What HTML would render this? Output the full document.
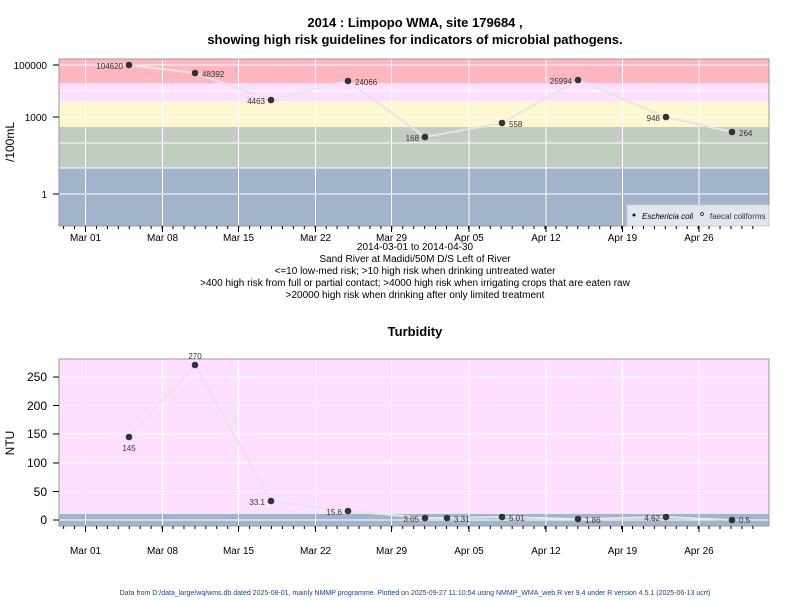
<!DOCTYPE html>
<html><head><style>body{margin:0;background:#fff}svg{display:block;font-family:"Liberation Sans",sans-serif}</style></head>
<body>
<svg width="800" height="600" viewBox="0 0 800 600">
<text x="415" y="27" font-size="13" font-weight="bold" text-anchor="middle">2014 : Limpopo WMA, site 179684 ,</text>
<text x="415" y="44" font-size="13" font-weight="bold" text-anchor="middle">showing high risk guidelines for indicators of microbial pathogens.</text>
<!-- top panel -->
<rect x="59" y="59" width="710" height="24" fill="#ffb6c1"/>
<rect x="59" y="83" width="710" height="18" fill="#ffdfff"/>
<rect x="59" y="101" width="710" height="26" fill="#fdf8d0"/>
<rect x="59" y="127" width="710" height="41" fill="#c3ccc0"/>
<rect x="59" y="168" width="710" height="58" fill="#a2b3cc"/>
<g stroke="#fff" stroke-width="1">
<line x1="59" x2="769" y1="65" y2="65"/><line x1="59" x2="769" y1="91" y2="91"/><line x1="59" x2="769" y1="117" y2="117"/><line x1="59" x2="769" y1="143" y2="143"/><line x1="59" x2="769" y1="168" y2="168"/><line x1="59" x2="769" y1="194" y2="194"/>
<line x1="85.5" x2="85.5" y1="59" y2="226"/><line x1="162.5" x2="162.5" y1="59" y2="226"/><line x1="238.5" x2="238.5" y1="59" y2="226"/><line x1="315.5" x2="315.5" y1="59" y2="226"/><line x1="391.5" x2="391.5" y1="59" y2="226"/><line x1="469" x2="469" y1="59" y2="226"/><line x1="546" x2="546" y1="59" y2="226"/><line x1="622.5" x2="622.5" y1="59" y2="226"/><line x1="699" x2="699" y1="59" y2="226"/>
</g>
<rect x="59" y="59" width="710" height="167" fill="none" stroke="#999"/>
<polyline points="129,65 195,73 271,100 348,81 425,137 502,123 578,80 666,117 732,132" fill="none" stroke="#e6e6e6" stroke-width="2"/>
<g fill="#333"><circle cx="129" cy="65" r="3.3"/><circle cx="195" cy="73" r="3.3"/><circle cx="271" cy="100" r="3.3"/><circle cx="348" cy="81" r="3.3"/><circle cx="425" cy="137" r="3.3"/><circle cx="502" cy="123" r="3.3"/><circle cx="578" cy="80" r="3.3"/><circle cx="666" cy="117" r="3.3"/><circle cx="732" cy="132" r="3.3"/></g>
<g font-size="8" fill="#333">
<text x="123" y="69" text-anchor="end">104620</text><text x="202" y="77">48392</text><text x="265" y="104" text-anchor="end">4463</text><text x="355" y="85">24066</text><text x="419" y="141" text-anchor="end">168</text><text x="509" y="127">558</text><text x="572" y="84" text-anchor="end">25994</text><text x="660" y="121" text-anchor="end">948</text><text x="739" y="136">264</text>
</g>
<rect x="627" y="205" width="142" height="21" fill="#e0e5ee" stroke="#ccc"/>
<circle cx="634" cy="215" r="1.5" fill="#111"/><text x="642" y="219" font-size="8" font-style="italic">Eschericia coli</text>
<circle cx="702" cy="214" r="1.5" fill="none" stroke="#111" stroke-width="0.7"/><text x="710" y="219" font-size="8" fill="#333">faecal coliforms</text>
<g font-size="10" text-anchor="end"><text x="47" y="69">100000</text><text x="47" y="121">1000</text><text x="47" y="198">1</text></g>
<g stroke="#000"><line x1="53" x2="59" y1="65" y2="65"/><line x1="53" x2="59" y1="117" y2="117"/><line x1="53" x2="59" y1="194" y2="194"/></g>
<text transform="translate(14,142) rotate(-90)" font-size="12" text-anchor="middle">/100mL</text>
<g stroke="#000">
<line x1="85.5" x2="85.5" y1="226" y2="232"/><line x1="162.5" x2="162.5" y1="226" y2="232"/><line x1="238.5" x2="238.5" y1="226" y2="232"/><line x1="315.5" x2="315.5" y1="226" y2="232"/><line x1="391.5" x2="391.5" y1="226" y2="232"/><line x1="469" x2="469" y1="226" y2="232"/><line x1="546" x2="546" y1="226" y2="232"/><line x1="622.5" x2="622.5" y1="226" y2="232"/><line x1="699" x2="699" y1="226" y2="232"/>
</g>
<g font-size="10" text-anchor="middle">
<text x="85.5" y="241">Mar 01</text><text x="162.5" y="241">Mar 08</text><text x="238.5" y="241">Mar 15</text><text x="315.5" y="241">Mar 22</text><text x="391.5" y="241">Mar 29</text><text x="469" y="241">Apr 05</text><text x="546" y="241">Apr 12</text><text x="622.5" y="241">Apr 19</text><text x="699" y="241">Apr 26</text>
</g>
<g font-size="10" text-anchor="middle">
<text x="415" y="250">2014-03-01 to 2014-04-30</text>
<text x="415" y="262">Sand River at Madidi/50M D/S Left of River</text>
<text x="415" y="274">&lt;=10 low-med risk; &gt;10 high risk when drinking untreated water</text>
<text x="415" y="286">&gt;400 high risk from full or partial contact; &gt;4000 high risk when irrigating crops that are eaten raw</text>
<text x="415" y="298">&gt;20000 high risk when drinking after only limited treatment</text>
</g>
<!-- bottom panel -->
<text x="415" y="336" font-size="13" font-weight="bold" text-anchor="middle">Turbidity</text>
<rect x="59" y="359" width="710" height="155" fill="#ffdfff"/>
<rect x="59" y="514" width="710" height="12" fill="#a2b3cc"/>
<g stroke="#fff">
<line x1="59" x2="769" y1="377" y2="377"/><line x1="59" x2="769" y1="405.5" y2="405.5"/><line x1="59" x2="769" y1="434" y2="434"/><line x1="59" x2="769" y1="463" y2="463"/><line x1="59" x2="769" y1="491.5" y2="491.5"/><line x1="59" x2="769" y1="520" y2="520"/>
<line x1="85.5" x2="85.5" y1="359" y2="526"/><line x1="162.5" x2="162.5" y1="359" y2="526"/><line x1="238.5" x2="238.5" y1="359" y2="526"/><line x1="315.5" x2="315.5" y1="359" y2="526"/><line x1="391.5" x2="391.5" y1="359" y2="526"/><line x1="469" x2="469" y1="359" y2="526"/><line x1="546" x2="546" y1="359" y2="526"/><line x1="622.5" x2="622.5" y1="359" y2="526"/><line x1="699" x2="699" y1="359" y2="526"/>
</g>
<rect x="59" y="359" width="710" height="167" fill="none" stroke="#999"/>
<polyline points="129,437 195,365 271,501 348,511 425,518 447,518 502,517 578,519 666,517 732,520" fill="none" stroke="#e6e6e6" stroke-width="2"/>
<g fill="#333"><circle cx="129" cy="437" r="3.3"/><circle cx="195" cy="365" r="3.3"/><circle cx="271" cy="501" r="3.3"/><circle cx="348" cy="511" r="3.3"/><circle cx="425" cy="518" r="3.3"/><circle cx="447" cy="518" r="3.3"/><circle cx="502" cy="517" r="3.3"/><circle cx="578" cy="519" r="3.3"/><circle cx="666" cy="517" r="3.3"/><circle cx="732" cy="520" r="3.3"/></g>
<g font-size="8" fill="#333">
<text x="129" y="451" text-anchor="middle">145</text><text x="195" y="359" text-anchor="middle">270</text><text x="265" y="505" text-anchor="end">33.1</text><text x="342" y="515" text-anchor="end">15.6</text><text x="419" y="522" text-anchor="end">3.05</text><text x="454" y="522">3.31</text><text x="509" y="521">5.01</text><text x="585" y="523">1.86</text><text x="660" y="521" text-anchor="end">4.62</text><text x="739" y="523">0.5</text>
</g>
<g font-size="12" text-anchor="end"><text x="47" y="381">250</text><text x="47" y="410">200</text><text x="47" y="438">150</text><text x="47" y="467">100</text><text x="47" y="496">50</text><text x="47" y="524">0</text></g>
<g stroke="#000"><line x1="53" x2="59" y1="377" y2="377"/><line x1="53" x2="59" y1="405.5" y2="405.5"/><line x1="53" x2="59" y1="434" y2="434"/><line x1="53" x2="59" y1="463" y2="463"/><line x1="53" x2="59" y1="491.5" y2="491.5"/><line x1="53" x2="59" y1="520" y2="520"/></g>
<text transform="translate(14,443) rotate(-90)" font-size="12" text-anchor="middle">NTU</text>
<g stroke="#000">
<line x1="85.5" x2="85.5" y1="526" y2="532"/><line x1="162.5" x2="162.5" y1="526" y2="532"/><line x1="238.5" x2="238.5" y1="526" y2="532"/><line x1="315.5" x2="315.5" y1="526" y2="532"/><line x1="391.5" x2="391.5" y1="526" y2="532"/><line x1="469" x2="469" y1="526" y2="532"/><line x1="546" x2="546" y1="526" y2="532"/><line x1="622.5" x2="622.5" y1="526" y2="532"/><line x1="699" x2="699" y1="526" y2="532"/>
</g>
<g font-size="10" text-anchor="middle">
<text x="85.5" y="554">Mar 01</text><text x="162.5" y="554">Mar 08</text><text x="238.5" y="554">Mar 15</text><text x="315.5" y="554">Mar 22</text><text x="391.5" y="554">Mar 29</text><text x="469" y="554">Apr 05</text><text x="546" y="554">Apr 12</text><text x="622.5" y="554">Apr 19</text><text x="699" y="554">Apr 26</text>
</g>
<g id="minor" stroke="#000"></g>
<text x="415" y="595" font-size="7" fill="#1f3f8f" text-anchor="middle">Data from D:/data_large/wq/wms.db dated 2025-08-01, mainly NMMP programme. Plotted on 2025-09-27 11:10:54 using NMMP_WMA_web.R ver 9.4 under R version 4.5.1 (2025-06-13 ucrt)</text>
</svg>
<script>
var g=document.getElementById('minor'),s='';
for(var d=-2;d<62;d++){var x=85.5+d*10.94;if(x<60||x>768)continue;s+='<line x1="'+x+'" x2="'+x+'" y1="226" y2="229"/><line x1="'+x+'" x2="'+x+'" y1="526" y2="529"/>';}
g.innerHTML=s;
</script>
</body></html>
